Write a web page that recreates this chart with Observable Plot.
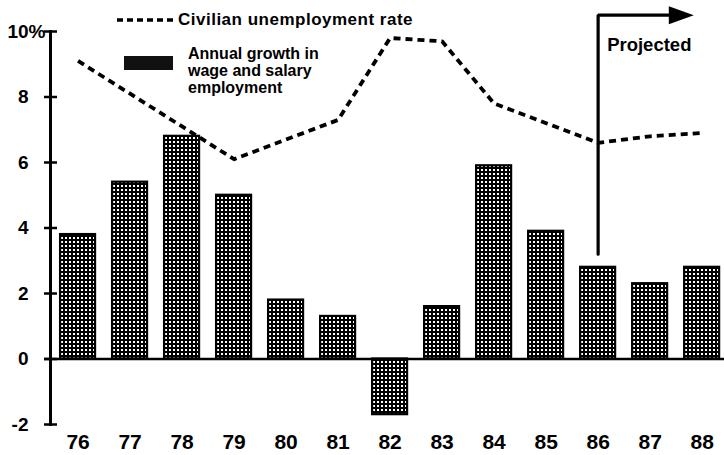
<!DOCTYPE html>
<html>
<head>
<meta charset="utf-8">
<script src="https://cdn.jsdelivr.net/npm/d3@7"></script>
<script src="https://cdn.jsdelivr.net/npm/@observablehq/plot@0.6"></script>
<style>
  html, body { margin: 0; padding: 0; background: #fff; }
  #wrap { position: relative; width: 724px; height: 455px; font-family: "Liberation Sans", Arial, Helvetica, sans-serif; color: #000; }
  #wrap svg { display: block; }
  .lg { position: absolute; font-weight: bold; color: #000; white-space: nowrap; }
  #lg1 { left: 117px; top: 10px; font-size: 17px; letter-spacing: 0.5px; display: flex; align-items: center; }
  #lg1 svg { margin-right: 5px; }
  #lg2 { left: 124px; top: 45px; display: flex; align-items: flex-start; }
  #lg2 .sw { width: 49px; height: 14px; background: #111; margin-top: 11px; margin-right: 15px; }
  #lg2 .tx { font-size: 16px; line-height: 17px; }
</style>
</head>
<body>
<div id="wrap"></div>
<script>
// ---- data ----
const years = [76, 77, 78, 79, 80, 81, 82, 83, 84, 85, 86, 87, 88];
const wageGrowth = [3.8, 5.4, 6.8, 5.0, 1.8, 1.3, -1.7, 1.6, 5.9, 3.9, 2.8, 2.3, 2.8];
const unemployment = [9.1, 8.1, 7.1, 6.1, 6.7, 7.3, 9.8, 9.7, 7.8, 7.2, 6.6, 6.8, 6.9];
const yTicks = [-2, 0, 2, 4, 6, 8];
const yTopTick = [10];
const xTickLabels = ["76", "77", "78", "79", "80", "81", "82", "83", "84", "85", "86", "87", "88"];
const lineLabel = "Civilian unemployment rate";
const barLabel = ["Annual growth in", "wage and salary", "employment"];
const projectedLabel = "Projected";
const projectedFrom = 86;       // year where projections begin
const projectedArrowBottom = 3.2;
const projectedArrowTop = 10.5;
const projectedArrowEnd = 87.84;

// ---- tables built from arrays ----
const bars = years.map((y, i) => ({year: y, value: wageGrowth[i]}));
const rate = years.map((y, i) => ({year: y, value: unemployment[i]}));
const arrowPath = [
  {year: projectedFrom, value: projectedArrowBottom},
  {year: projectedFrom, value: projectedArrowTop},
  {year: projectedArrowEnd - 0.4, value: projectedArrowTop}
];

const FONT = '"Liberation Sans", Arial, Helvetica, sans-serif';

const arrowHead = {
  draw(ctx) {
    ctx.moveTo(0, 0);
    ctx.lineTo(-25, -9);
    ctx.lineTo(-25, 9);
    ctx.closePath();
  }
};

const chart = Plot.plot({
  width: 724,
  height: 455,
  marginLeft: 50,
  marginRight: 0,
  marginTop: 31,
  marginBottom: 31,
  style: {fontFamily: FONT, fontWeight: "bold", background: "#fff", color: "#000", overflow: "visible"},
  x: {type: "linear", domain: [75.47, 88.43], label: null},
  y: {domain: [-2, 10], label: null},
  marks: [
    Plot.rectY(bars, {
      x1: d => d.year - 0.5, x2: d => d.year + 0.5, y: "value",
      insetLeft: 8.5, insetRight: 8.5,
      fill: "url(#dotpat)", stroke: "#000", strokeWidth: 2.2
    }),
    Plot.ruleY([0], {stroke: "#000", strokeWidth: 2.5, insetLeft: -6}),
    Plot.frame({anchor: "left", stroke: "#000", strokeWidth: 3}),
    Plot.axisY({ticks: yTicks, tickSize: 13, dx: 7, tickPadding: 16, tickFormat: d => String(d),
      fontSize: 19, strokeWidth: 2.5, label: null}),
    Plot.axisY({ticks: yTopTick, tickSize: 13, dx: 7, tickPadding: -1, tickFormat: d => d + "%",
      fontSize: 19, strokeWidth: 2.5, label: null}),
    Plot.axisX({ticks: years, tickSize: 0, tickPadding: 10, tickFormat: (d) => xTickLabels[years.indexOf(d)],
      fontSize: 21, label: null}),
    Plot.line(rate, {x: "year", y: "value", stroke: "#000", strokeWidth: 3.8,
      strokeDasharray: "7,5", strokeLinecap: "butt"}),
    Plot.line(arrowPath, {x: "year", y: "value", stroke: "#000", strokeWidth: 3.2, strokeLinejoin: "miter"}),
    Plot.dot([{year: projectedArrowEnd, value: projectedArrowTop}], {x: "year", y: "value",
      symbol: arrowHead, r: 10, fill: "#000", stroke: "none"}),
    Plot.text([{year: projectedFrom, value: projectedArrowTop, label: projectedLabel}], {
      x: "year", y: "value", text: "label", textAnchor: "start", dx: 9, dy: 30,
      fontSize: 18.5, fontWeight: "bold", fill: "#000"})
  ]
});

// dotted screen pattern for the bars
const ns = "http://www.w3.org/2000/svg";
const defs = document.createElementNS(ns, "defs");
defs.innerHTML = '<pattern id="dotpat" width="4" height="4" patternUnits="userSpaceOnUse">' +
  '<rect width="4" height="4" fill="#000"/><rect x="1" y="1" width="2" height="2" fill="#fff"/></pattern>';
chart.insertBefore(defs, chart.firstChild);

const wrap = document.getElementById("wrap");
wrap.appendChild(chart);

// legend
const lg1 = document.createElement("div");
lg1.className = "lg"; lg1.id = "lg1";
lg1.innerHTML = '<svg width="56" height="6"><line x1="0" y1="3" x2="56" y2="3" stroke="#000" stroke-width="3.6" stroke-dasharray="6,4"/></svg>';
lg1.appendChild(document.createTextNode(lineLabel));
wrap.appendChild(lg1);

const lg2 = document.createElement("div");
lg2.className = "lg"; lg2.id = "lg2";
const sw = document.createElement("div"); sw.className = "sw";
const tx = document.createElement("div"); tx.className = "tx";
tx.innerHTML = barLabel.join("<br>");
lg2.appendChild(sw); lg2.appendChild(tx);
wrap.appendChild(lg2);
</script>
</body>
</html>
